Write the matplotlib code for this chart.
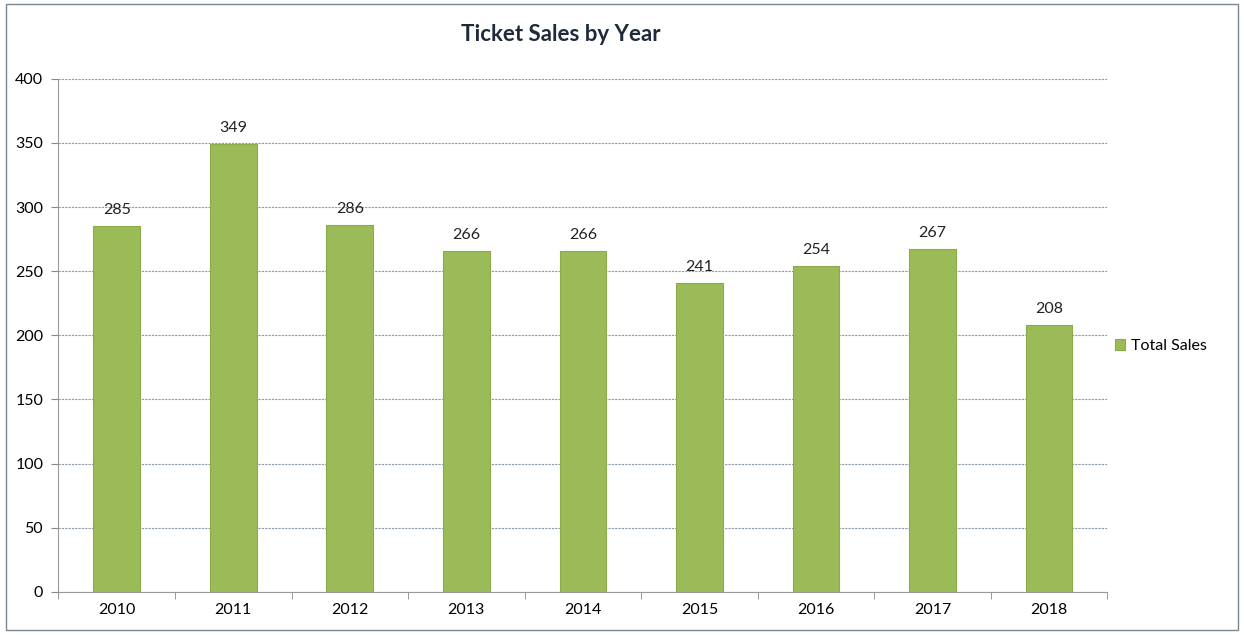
import matplotlib
matplotlib.use("Agg")
import matplotlib.pyplot as plt
from matplotlib.patches import Rectangle
import numpy as np

years = ["2010", "2011", "2012", "2013", "2014", "2015", "2016", "2017", "2018"]
total_sales = [285, 349, 286, 266, 266, 241, 254, 267, 208]
y_ticks = [0, 50, 100, 150, 200, 250, 300, 350, 400]

# Lato is the base of Carlito (Calibri look-alike)
plt.rcParams['font.family'] = ['Lato', 'DejaVu Sans']

fig = plt.figure(figsize=(12.44, 6.35), dpi=100)
ax = fig.add_axes([0.047, 0.068, 0.843, 0.808])

x = np.arange(len(years))
bars = ax.bar(x, total_sales, width=0.4, color="#9bbb59", edgecolor="#8aab48",
              linewidth=0.8, label="Total Sales", zorder=3)

for xi, v in zip(x, total_sales):
    ax.text(xi, v + 7, str(v), ha="center", va="bottom", fontsize=11.5, color="#222222")

ax.set_xlim(-0.5, len(years) - 0.5)
ax.set_ylim(0, 400)
ax.set_yticks(y_ticks)
ax.set_xticks(x)
ax.set_xticklabels(years)
ax.set_xticks(np.arange(-0.5, len(years)), minor=True)
ax.tick_params(axis="x", which="major", length=0, pad=8, labelsize=11.5)
ax.tick_params(axis="x", which="minor", length=5, color="#888888")
ax.tick_params(axis="y", length=5, color="#888888", pad=6, labelsize=11.5)

ax.grid(axis="y", color="#8c9aa8", linestyle=(0, (2, 1)), linewidth=0.8, zorder=0)
for side in ["top", "right"]:
    ax.spines[side].set_visible(False)
ax.spines["left"].set_color("#999999")
ax.spines["bottom"].set_color("#999999")

fig.text(0.451, 0.945, "Ticket Sales by Year", ha="center", va="center",
         fontsize=16, fontweight="bold", color="#1f2a3a")

fig.legend(handles=[bars], loc="center left", bbox_to_anchor=(0.885, 0.455),
           frameon=False, fontsize=11.5, handlelength=0.6, handleheight=0.6,
           handletextpad=0.4)

fig.patches.append(Rectangle((0.005, 0.008), 0.99, 0.985, transform=fig.transFigure,
                             fill=False, edgecolor="#7a8896", linewidth=1.0))

fig.savefig("out.png", dpi=100)
